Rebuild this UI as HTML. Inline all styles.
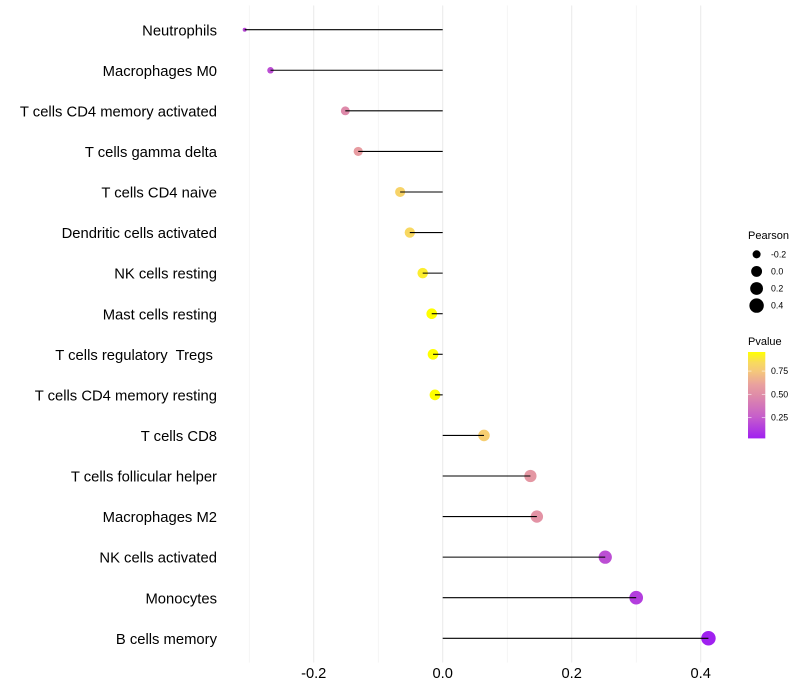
<!DOCTYPE html>
<html>
<head>
<meta charset="utf-8">
<title>Pearson lollipop chart</title>
<style>
html,body{margin:0;padding:0;background:#fff;}
svg{display:block;font-family:"Liberation Sans",Arial,sans-serif;}
</style>
</head>
<body>
<svg id="chart" xmlns="http://www.w3.org/2000/svg" width="800" height="700" viewBox="0 0 800 700">
  <defs>
    <linearGradient id="pvalue-gradient" x1="0" y1="1" x2="0" y2="0">
      <stop offset="0" stop-color="#a020f0"/>
      <stop offset="0.25" stop-color="#c65ecb"/>
      <stop offset="0.5" stop-color="#df8ca8"/>
      <stop offset="0.62" stop-color="#e9a09f"/>
      <stop offset="0.78" stop-color="#f5c87a"/>
      <stop offset="0.88" stop-color="#f8da5e"/>
      <stop offset="1" stop-color="#ffff00"/>
    </linearGradient>
  </defs>
  <g id="grid"></g>
  <g id="marks"></g>
  <g id="ylabels"></g>
  <g id="xlabels"></g>
  <g id="size-legend"></g>
  <g id="color-legend"></g>
</svg>
<script>
const categories = ["Neutrophils","Macrophages M0","T cells CD4 memory activated","T cells gamma delta","T cells CD4 naive","Dendritic cells activated","NK cells resting","Mast cells resting","T cells regulatory  Tregs ","T cells CD4 memory resting","T cells CD8","T cells follicular helper","Macrophages M2","NK cells activated","Monocytes","B cells memory"];
const pearson = [-0.307,-0.267,-0.151,-0.131,-0.066,-0.051,-0.031,-0.017,-0.015,-0.012,0.064,0.136,0.146,0.252,0.3,0.412];
const pvalue = [0.18,0.2,0.48,0.58,0.81,0.835,0.9,0.955,0.955,0.955,0.78,0.55,0.53,0.2,0.14,0.03];
const majorTicks = [-0.2,0,0.2,0.4];
const majorTickLabels = ["-0.2","0.0","0.2","0.4"];
const minorTicks = [-0.3,-0.1,0.1,0.3];
const sizeBreaks = [-0.2,0,0.2,0.4];
const sizeBreakLabels = ["-0.2","0.0","0.2","0.4"];
const colorBreaks = [0.25,0.5,0.75];
const colorBreakLabels = ["0.25","0.50","0.75"];

const SVGNS = "http://www.w3.org/2000/svg";
function mk(tag, attrs, parent, text){
  const el = document.createElementNS(SVGNS, tag);
  for (const k in attrs) el.setAttribute(k, attrs[k]);
  if (text !== undefined) el.textContent = text;
  parent.appendChild(el);
  return el;
}
function xScale(v){ return 442.7 + v * 645; }
function yScale(i){ return 29.7 + i * 40.573; }
const sizeMin = Math.min(...pearson), sizeMax = Math.max(...pearson);
function sizeScale(v){
  const t = Math.max(0, (v - sizeMin) / (sizeMax - sizeMin));
  return (4 + 10.5 * Math.sqrt(t)) / 2;
}
const rampPos = [0,0.25,0.5,0.62,0.78,0.88,1];
const rampCol = [[160,32,240],[198,94,203],[223,140,168],[233,160,159],[245,200,122],[248,218,94],[255,255,0]];
const pMin = 0.027, pMax = 0.955;
function colorScale(p){
  const t = Math.min(1, Math.max(0, (p - pMin) / (pMax - pMin)));
  let i = 0;
  while (i < rampPos.length - 2 && t > rampPos[i + 1]) i++;
  const f = (t - rampPos[i]) / (rampPos[i + 1] - rampPos[i]);
  const c = rampCol[i].map((a, k) => Math.round(a + (rampCol[i + 1][k] - a) * f));
  return "rgb(" + c.join(",") + ")";
}

const grid = document.getElementById("grid");
minorTicks.forEach(v => {
  const l = mk("line", {x1:xScale(v), x2:xScale(v), y1:5.5, y2:662.5, stroke:"#ededed", "stroke-width":0.55}, grid);
  
  
});
majorTicks.forEach(v => {
  const l = mk("line", {x1:xScale(v), x2:xScale(v), y1:5.5, y2:662.5, stroke:"#ebebeb", "stroke-width":1.07}, grid);
  
  
});

const marks = document.getElementById("marks");
categories.forEach((c, i) => {
  const dot = mk("circle", {cx:xScale(pearson[i]), cy:yScale(i), r:sizeScale(pearson[i]), fill:colorScale(pvalue[i])}, marks);
  
  
  const stem = mk("line", {x1:xScale(0), x2:xScale(pearson[i]), y1:yScale(i), y2:yScale(i), stroke:"#000", "stroke-width":1.07}, marks);
  
  
});

const ylabels = document.getElementById("ylabels");
categories.forEach((c, i) => {
  const t = mk("text", {x:217, y:yScale(i) + 5.6, "text-anchor":"end", "font-size":14.8, fill:"#000", "xml:space":"preserve", style:"white-space:pre"}, ylabels, c);
  
  
});

const xlabels = document.getElementById("xlabels");
majorTicks.forEach((v, i) => {
  const t = mk("text", {x:xScale(v), y:678, "text-anchor":"middle", "font-size":14.67, fill:"#000"}, xlabels, majorTickLabels[i]);
  
  
});

const sizeLegend = document.getElementById("size-legend");
const sizeTitle = mk("text", {x:748, y:239, "font-size":11, fill:"#000"}, sizeLegend, "Pearson");


sizeBreaks.forEach((v, i) => {
  const cy = 254.3 + i * 17.1;
  const d = mk("circle", {cx:756.6, cy:cy, r:sizeScale(v), fill:"#000"}, sizeLegend);
  
  
  const t = mk("text", {x:771, y:cy + 3.1, "font-size":8.8, fill:"#000"}, sizeLegend, sizeBreakLabels[i]);
  
  
});

const colorLegend = document.getElementById("color-legend");
const colorTitle = mk("text", {x:748, y:345, "font-size":11, fill:"#000"}, colorLegend, "Pvalue");


const bar = mk("rect", {x:748, y:352, width:17.3, height:86.4, fill:"url(#pvalue-gradient)"}, colorLegend);


function legendY(p){ return 352 + (pMax - p) / (pMax - pMin) * 86.4; }
colorBreaks.forEach((p, i) => {
  const y = legendY(p);
  const a = mk("line", {x1:748, x2:751.5, y1:y, y2:y, stroke:"#fff", "stroke-opacity":0.7, "stroke-width":0.8}, colorLegend);
  
  
  const b = mk("line", {x1:761.8, x2:765.3, y1:y, y2:y, stroke:"#fff", "stroke-opacity":0.7, "stroke-width":0.8}, colorLegend);
  
  
  const t = mk("text", {x:771, y:y + 3.1, "font-size":8.8, fill:"#000"}, colorLegend, colorBreakLabels[i]);
  
  
});
</script>
</body>
</html>
